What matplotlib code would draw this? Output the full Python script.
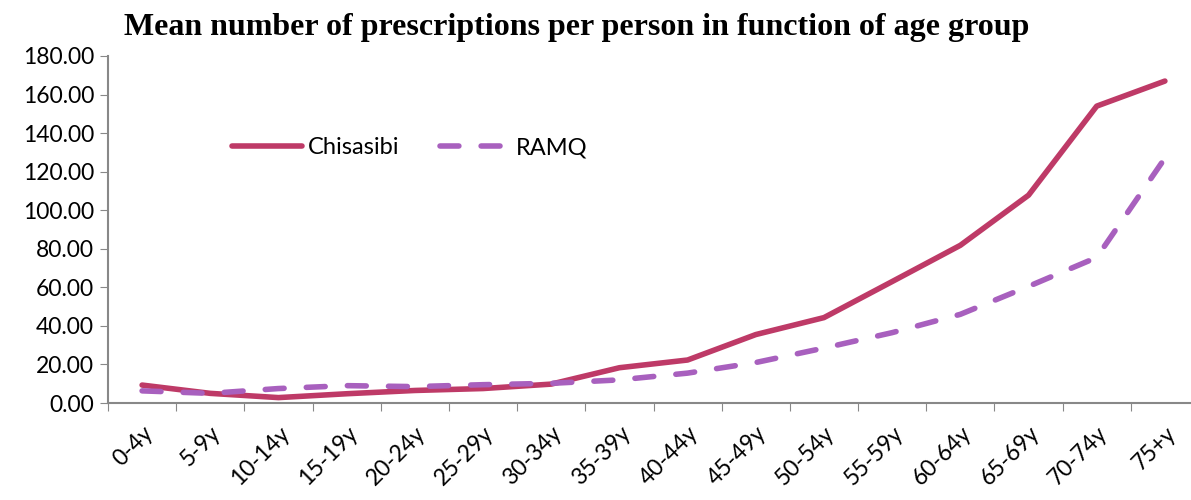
import matplotlib
matplotlib.use("Agg")
import matplotlib.pyplot as plt
import numpy as np

categories = ["0-4y", "5-9y", "10-14y", "15-19y", "20-24y", "25-29y", "30-34y", "35-39y",
              "40-44y", "45-49y", "50-54y", "55-59y", "60-64y", "65-69y", "70-74y", "75+y"]
chisasibi = [9.3, 5.0, 2.8, 4.8, 6.5, 7.5, 9.8, 18.3, 22.3, 35.5, 44.3, 63.0, 81.8, 107.8, 154.0, 167.0]
ramq = [6.3, 5.0, 7.5, 9.0, 8.5, 9.5, 10.2, 12.0, 15.5, 21.0, 28.5, 36.5, 46.0, 60.5, 75.5, 127.0]
yticks = [0, 20, 40, 60, 80, 100, 120, 140, 160, 180]

fig = plt.figure(figsize=(11.91, 5.0), dpi=100)
ax = fig.add_axes([108/1191, 1-403/500, 1091/1191, (403-56)/500])

x = np.arange(len(categories))
ax.plot(x, chisasibi, color="#BE3A67", lw=4, solid_capstyle="round", label="Chisasibi")
ax.plot(x, ramq, color="#A860BE", lw=4, ls=(0, (3.4, 4.0)), dash_capstyle="round", label="RAMQ")

ax.set_xlim(-0.5, 15.5)
ax.set_ylim(0, 180)
ax.set_yticks(yticks)
ax.set_yticklabels([f"{v:.2f}" for v in yticks], fontsize=16.5, family="Lato")
ax.set_xticks(np.arange(-0.5, 15.6, 1.0))
ax.set_xticklabels([])
ax.set_xticks(x, minor=True)
ax.set_xticklabels(categories, minor=True, rotation=45, ha="right", va="top",
                   rotation_mode="anchor", fontsize=16.5, family="Lato")
ax.tick_params(axis="x", which="minor", length=0, pad=14)
ax.tick_params(axis="x", which="major", length=6, color="#888888", direction="out")
ax.tick_params(axis="y", length=6, color="#888888", direction="out", pad=4)
for s in ["top", "right"]:
    ax.spines[s].set_visible(False)
for s in ["left", "bottom"]:
    ax.spines[s].set_color("#888888")
    ax.spines[s].set_linewidth(1.5)
ax.spines["bottom"].set_clip_on(False)

leg = ax.legend(loc="upper left", bbox_to_anchor=((232-108)/1091, (403-137)/347), ncol=2,
                frameon=False, borderpad=0, borderaxespad=0,
                prop={"family": "Lato", "size": 17}, handlelength=2.95, columnspacing=1.75,
                handletextpad=0.25)

fig.text(577/1191, 1-28/500, "Mean number of prescriptions per person in function of age group",
         ha="center", va="center", fontsize=23, fontweight="bold", family="Liberation Serif")

fig.savefig("out.png", dpi=100)
